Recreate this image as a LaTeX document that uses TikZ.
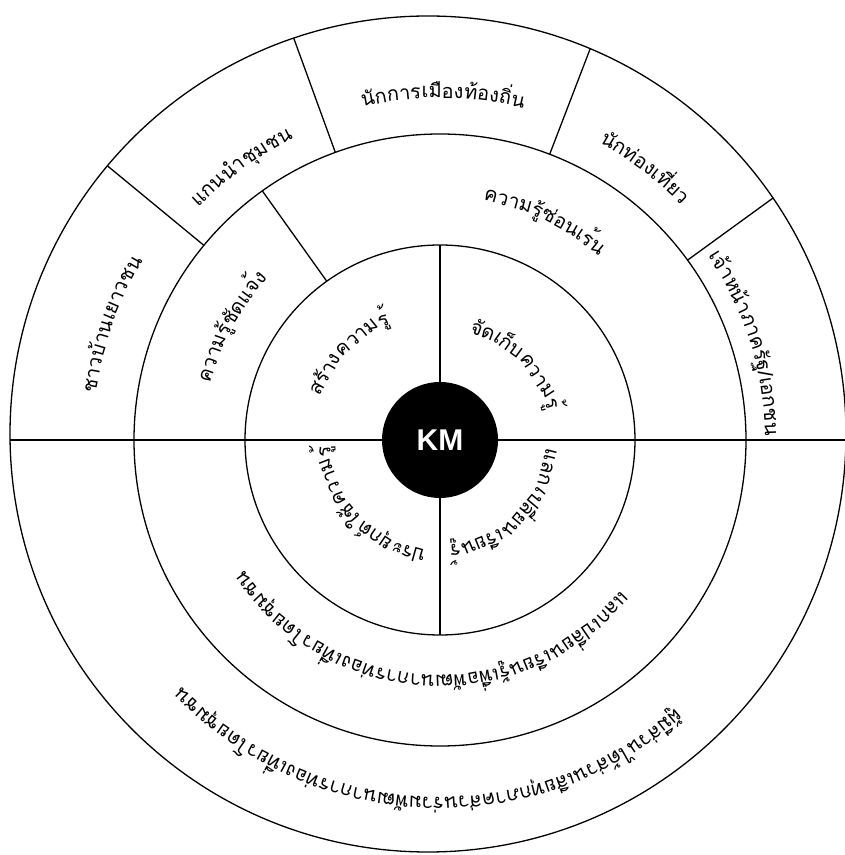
\documentclass[tikz,border=0pt]{standalone}
\usepackage{fontspec}
\setmainfont{Liberation Sans}
\newfontfamily\thai[Script=Thai]{Loma}
\usepackage{tikz}
\usetikzlibrary{decorations.text, calc}

\tikzstyle{ring} = [draw, line width=1.3pt]
\tikzstyle{divider} = [line width=1.3pt]
\tikzstyle{kmnode} = [circle, fill=black, minimum size=116pt, inner sep=0pt, text=white, font=\bfseries\fontsize{30}{30}\selectfont]

% text bent along a clockwise arc round C: radius, middle angle, half span, text
\newcommand{\bentlabel}[4]{%
  \path[decorate, decoration={text along path, text align=center,
      text={|\thai\fontsize{20}{24}\selectfont|#4}}]
    ([shift={(#2+#3:#1)}]C) arc[start angle=#2+#3, end angle=#2-#3, radius=#1];}

\begin{document}
\begin{tikzpicture}[x=1pt, y=1pt]
    \useasboundingbox (0,0) rectangle (845,855);
    \coordinate (C) at (440,415);
    \coordinate (O) at (428,421);

    % rings
    \draw[ring] (O) circle[radius=418pt];
    \draw[ring] (C) circle[radius=306pt];
    \draw[ring] (C) circle[radius=195pt];

    % dividers
    \coordinate (west) at (10,415);
    \coordinate (east) at (846,415);
    \draw[divider] (west) -- (east);
    \draw[divider] ([shift={(125.5:195pt)}]C) -- ([shift={(125.5:306pt)}]C);
    \foreach \ang/\len in {140.5/431, 110/427.7, 69/419, 36/412}
        \draw[divider] ([shift={(\ang:306pt)}]C) -- ([shift={(\ang:\len pt)}]C);

    \node[kmnode] (km) at (C) {KM};
    \draw[divider] (km.north) -- ([shift={(90:195pt)}]C);
    \draw[divider] (km.south) -- ([shift={(-90:195pt)}]C);

    % outer ring
    \bentlabel{342pt}{89.5}{40}{{นัก}{การ}{เมือง}{ท้อง}{ถิ่น}}
    \bentlabel{335pt}{126}{30}{{แกน}{นำ}{ชุม}{ชน}}
    \bentlabel{337pt}{53}{30}{{นัก}{ท่อง}{เที่ยว}}
    \bentlabel{325pt}{17.6}{40}{{เจ้า}{หน้า}{ภาค}{รัฐ}{/}{เอก}{ชน}}
    \bentlabel{347pt}{160.6}{35}{{ชาว}{บ้าน}{เยาว}{ชน}}
    \bentlabel{357pt}{-92.5}{70}{{ผู้}{มี}{ส่วน}{ได้}{ส่วน}{เสีย}{ทุก}{ภาค}{ส่วน}{ร่วม}{พัฒ}{นา}{การ}{ท่อง}{เที่ยว}{โดย}{ชุม}{ชน}}

    % middle ring
    \bentlabel{236pt}{151.5}{40}{{ความ}{รู้}{ชัด}{แจ้ง}}
    \bentlabel{243pt}{64.5}{50}{{ความ}{รู้}{ซ่อน}{เร้น}}
    \bentlabel{235pt}{-93}{80}{{แลก}{เปลี่ยน}{เรียน}{รู้}{เพื่อ}{พัฒ}{นา}{การ}{ท่อง}{เที่ยว}{โดย}{ชุม}{ชน}}

    % inner ring
    \bentlabel{126pt}{136.5}{60}{{สร้าง}{ความ}{รู้}}
    \bentlabel{111pt}{45}{60}{{จัด}{เก็บ}{ความ}{รู้}}
    \bentlabel{105pt}{-44.6}{60}{{แลก}{เปลี่ยน}{เรียน}{รู้}}
    \bentlabel{110pt}{-137}{60}{{ประ}{ยุกต์}{ใช้}{ความ}{รู้}}
\end{tikzpicture}
\end{document}
